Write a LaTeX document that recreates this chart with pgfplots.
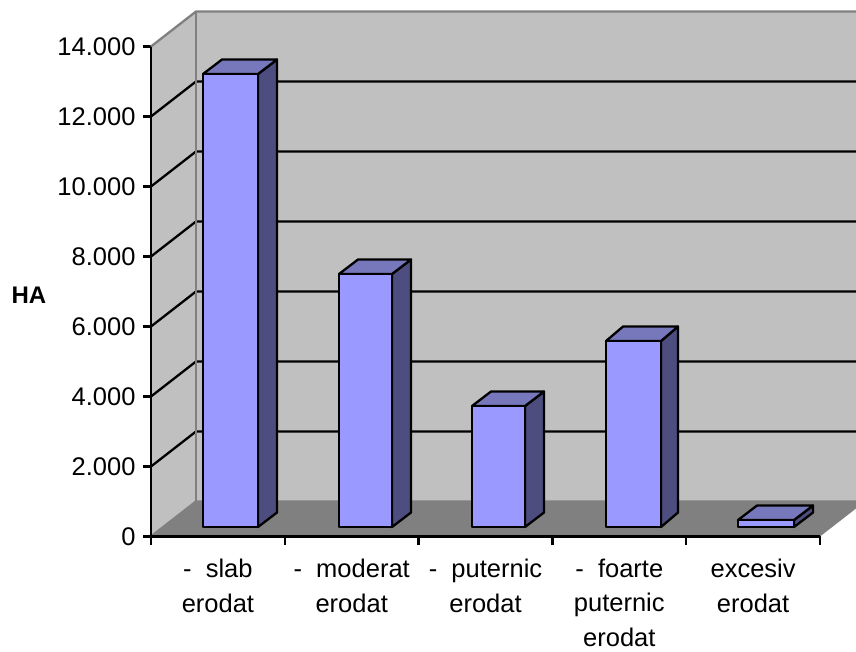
\documentclass[border=0pt]{standalone}
\usepackage{fontspec}
\setmainfont{Liberation Sans}
\usepackage{pgfplots}
\pgfplotsset{compat=1.18}

\definecolor{wall}{HTML}{C0C0C0}
\definecolor{edge}{HTML}{808080}
\definecolor{barfront}{HTML}{9999FF}
\definecolor{bartop}{HTML}{7777BB}
\definecolor{barside}{HTML}{4D4D80}

\begin{document}
\begin{tikzpicture}
\useasboundingbox (0,0) rectangle (856pt,652pt);
% x is in pixels from the y axis, y in HA; 1 px = 28.57 HA, so the depth of
% the walls is (45,1000), a bar stands on y=271 and its depth is (19,414)
\begin{axis}[
    at={(0,0)}, anchor=south west,
    scale only axis,
    width=856pt, height=652pt,
    xmin=-151, xmax=705,
    ymin=-3300, ymax=15329,
    axis lines=middle,
    axis line style={draw=none},
    hide obscured x ticks=false,
    hide obscured y ticks=false,
    tick style={black, line width=2.3pt},
    tick align=outside,
    major tick length=8pt,
    ytick={0,2000,4000,6000,8000,10000,12000,14000},
    scaled y ticks=false,
    /pgf/number format/assume math mode=true,
    /pgf/number format/1000 sep={.},
    yticklabel style={font=\fontsize{25.5}{30}\selectfont, xshift=-4pt},
    xtick={0,133.8,267.6,401.4,535.2,669},
    xticklabels={},
    extra x ticks={66.9,200.7,334.5,468.3,602.1},
    extra x tick labels={{-\ \ slab\\erodat},{-\ \ moderat\\erodat},{-\ \ puternic\\erodat},{-\ \ foarte\\puternic\\erodat},{excesiv\\erodat}},
    extra x tick style={
        tick style={draw=none},
        xticklabel style={align=center, anchor=north, yshift=-11pt, font=\fontsize{25.5}{34.5}\selectfont},
    },
    every axis plot/.append style={no markers, line width=2.3pt, line join=round},
]

% walls and floor
\addplot[fill=wall, draw=none] coordinates {(0,0)(45,1000)(705,1000)(705,15000)(45,15000)(0,14000)} -- cycle;
\addplot[fill=edge, draw=none] coordinates {(0,0)(669,0)(714,1000)(45,1000)} -- cycle;

% grid lines
\addplot[black] coordinates {(0,2000)(45,3000)(705,3000)};
\addplot[black] coordinates {(0,4000)(45,5000)(705,5000)};
\addplot[black] coordinates {(0,6000)(45,7000)(705,7000)};
\addplot[black] coordinates {(0,8000)(45,9000)(705,9000)};
\addplot[black] coordinates {(0,10000)(45,11000)(705,11000)};
\addplot[black] coordinates {(0,12000)(45,13000)(705,13000)};

% wall edges
\addplot[edge] coordinates {(0,14000)(45,15000)(705,15000)};
\addplot[edge] coordinates {(45,15000)(45,1000)};
\addplot[edge] coordinates {(0,0)(45,1000)(705,1000)};

% slab erodat
\addplot[fill=barside, draw=black] coordinates {(107,271)(126,685)(126,13628)(107,13214)} -- cycle;
\addplot[fill=bartop, draw=black] coordinates {(52,13214)(71,13628)(126,13628)(107,13214)} -- cycle;
\addplot[fill=barfront, draw=black] coordinates {(52,271)(107,271)(107,13214)(52,13214)} -- cycle;
% moderat erodat
\addplot[fill=barside, draw=black] coordinates {(241,271)(260,685)(260,7914)(241,7500)} -- cycle;
\addplot[fill=bartop, draw=black] coordinates {(188,7500)(207,7914)(260,7914)(241,7500)} -- cycle;
\addplot[fill=barfront, draw=black] coordinates {(188,271)(241,271)(241,7500)(188,7500)} -- cycle;
% puternic erodat
\addplot[fill=barside, draw=black] coordinates {(374,271)(393,685)(393,4142)(374,3728)} -- cycle;
\addplot[fill=bartop, draw=black] coordinates {(321,3728)(340,4142)(393,4142)(374,3728)} -- cycle;
\addplot[fill=barfront, draw=black] coordinates {(321,271)(374,271)(374,3728)(321,3728)} -- cycle;
% foarte puternic erodat
\addplot[fill=barside, draw=black] coordinates {(510,271)(527,685)(527,5999)(510,5585)} -- cycle;
\addplot[fill=bartop, draw=black] coordinates {(455,5585)(472,5999)(527,5999)(510,5585)} -- cycle;
\addplot[fill=barfront, draw=black] coordinates {(455,271)(510,271)(510,5585)(455,5585)} -- cycle;
% excesiv erodat
\addplot[fill=barside, draw=black] coordinates {(643,271)(662,685)(662,885)(643,471)} -- cycle;
\addplot[fill=bartop, draw=black] coordinates {(587,471)(606,885)(662,885)(643,471)} -- cycle;
\addplot[fill=barfront, draw=black] coordinates {(587,271)(643,271)(643,471)(587,471)} -- cycle;

% axes
\addplot[black] coordinates {(0,14000)(0,0)(669,0)};

\node[font=\fontsize{24}{28}\selectfont\bfseries] at (axis cs:-122,6900) {HA};
\end{axis}
\end{tikzpicture}
\end{document}
